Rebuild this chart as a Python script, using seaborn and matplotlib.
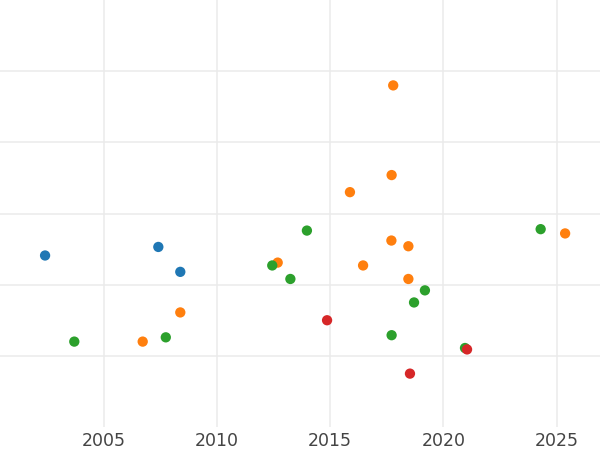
import pandas as pd
import seaborn as sns
import matplotlib.pyplot as plt

# values (x = year, y = value in grid units)
blue_x = [2002.42, 2007.42, 2008.39]
blue_y = [2.41, 2.53, 2.18]
orange_x = [2017.79, 2017.72, 2015.88, 2017.71, 2018.46, 2025.38, 2012.69, 2016.46, 2018.46, 2008.39, 2006.73]
orange_y = [4.80, 3.54, 3.30, 2.62, 2.54, 2.72, 2.31, 2.27, 2.08, 1.61, 1.20]
green_x = [2013.98, 2024.30, 2012.45, 2013.25, 2019.19, 2018.71, 2007.75, 2003.71, 2017.72, 2020.96]
green_y = [2.76, 2.78, 2.27, 2.08, 1.92, 1.75, 1.26, 1.20, 1.29, 1.11]
red_x = [2014.87, 2021.05, 2018.53]
red_y = [1.50, 1.09, 0.75]

groups = ['A', 'B', 'C', 'D']
xs = [blue_x, orange_x, green_x, red_x]
ys = [blue_y, orange_y, green_y, red_y]
palette = ['#1f77b4', '#ff7f0e', '#2ca02c', '#d62728']

df = pd.concat([pd.DataFrame({'year': x, 'value': y, 'group': g})
                for g, x, y in zip(groups, xs, ys)], ignore_index=True)

sns.set_style('whitegrid')
fig = plt.figure(figsize=(6, 4.5), dpi=100)
ax = fig.add_axes([0, 1 - 427 / 450, 1, 427 / 450])

sns.scatterplot(data=df, x='year', y='value', hue='group', hue_order=groups,
                palette=palette, s=55, linewidth=0, legend=False, ax=ax)

ax.set_xlim(2000.43, 2026.92)
ax.set_ylim(0, 6)
ax.set_xticks([2005, 2010, 2015, 2020, 2025])
ax.set_yticks([1, 2, 3, 4, 5])
ax.set_yticklabels([])
ax.grid(True, color='#ebebeb', linewidth=1.1)
ax.tick_params(axis='x', length=0, pad=3.5, labelsize=12.5, labelcolor='#444444')
ax.tick_params(axis='y', length=0)
ax.set_xlabel('')
ax.set_ylabel('')
for s in ax.spines.values():
    s.set_visible(False)

fig.savefig('out.png', dpi=100)
